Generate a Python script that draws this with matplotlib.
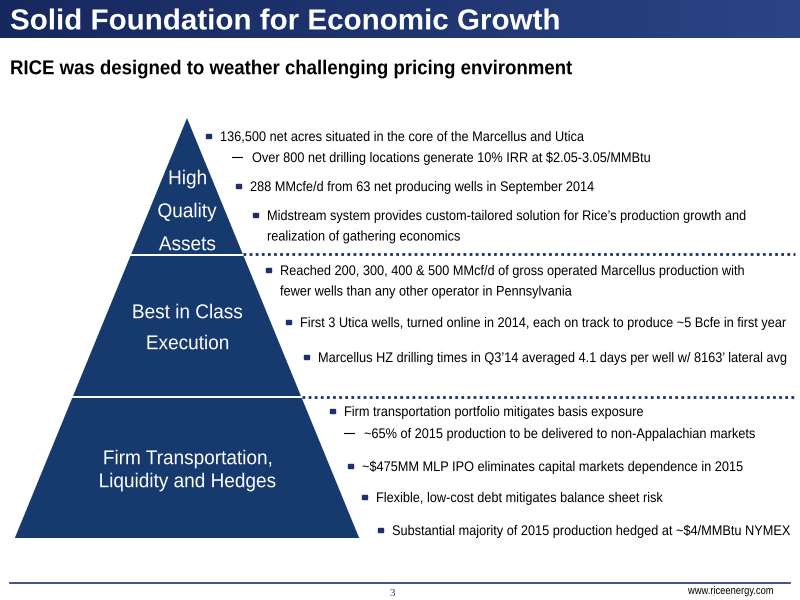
import numpy as np
import matplotlib.pyplot as plt
from matplotlib.patches import Polygon, PathPatch
from matplotlib.textpath import TextPath
from matplotlib.font_manager import FontProperties
from matplotlib.transforms import Affine2D
from matplotlib.colors import LinearSegmentedColormap

title = "Solid Foundation for Economic Growth"
subtitle = "RICE was designed to weather challenging pricing environment"
tier_labels = [["High", "Quality", "Assets"], ["Best in Class", "Execution"],
               ["Firm Transportation,", "Liquidity and Hedges"]]
tier_label_y = [[177, 210, 243], [311, 342], [457, 480]]
# (marker, marker x, y of each line, text lines)
bullets = [
    ("▪", 206, 136, ["136,500 net acres situated in the core of the Marcellus and Utica"]),
    ("–", 232, 157, ["Over 800 net drilling locations generate 10% IRR at $2.05-3.05/MMBtu"]),
    ("▪", 236, 186, ["288 MMcfe/d from 63 net producing wells in September 2014"]),
    ("▪", 253, 215, ["Midstream system provides custom-tailored solution for Rice’s production growth and",
                     "realization of gathering economics"]),
    ("▪", 266, 270, ["Reached 200, 300, 400 & 500 MMcf/d of gross operated Marcellus production with",
                     "fewer wells than any other operator in Pennsylvania"]),
    ("▪", 286, 322, ["First 3 Utica wells, turned online in 2014, each on track to produce ~5 Bcfe in first year"]),
    ("▪", 304, 357, ["Marcellus HZ drilling times in Q3’14 averaged 4.1 days per well w/ 8163’ lateral avg"]),
    ("▪", 330, 411, ["Firm transportation portfolio mitigates basis exposure"]),
    ("–", 344, 433, ["~65% of 2015 production to be delivered to non-Appalachian markets"]),
    ("▪", 348, 466, ["~$475MM MLP IPO eliminates capital markets dependence in 2015"]),
    ("▪", 362, 497, ["Flexible, low-cost debt mitigates balance sheet risk"]),
    ("▪", 378, 530, ["Substantial majority of 2015 production hedged at ~$4/MMBtu NYMEX"]),
]

navy = "#1f2f6b"
pyr_color = "#173a6e"
fig = plt.figure(figsize=(8, 6), dpi=100)
ax = fig.add_axes([0, 0, 1, 1])
ax.set_xlim(0, 800)
ax.set_ylim(600, 0)
ax.axis("off")


def ntext(x, y, s, px, color="black", ha="left", weight="normal", sx=0.82, zorder=4):
    """Draw horizontally condensed text (stand-in for Arial Narrow), y = vertical centre."""
    fp = FontProperties(family="Liberation Sans", weight=weight)
    path = TextPath((0, 0), s, size=px, prop=fp)
    w = path.get_extents().x1 * sx
    x0 = x - w / 2 if ha == "center" else x
    tr = Affine2D().scale(sx, -1).translate(x0, y + 0.36 * px)
    ax.add_patch(PathPatch(tr.transform_path(path), facecolor=color, edgecolor="none",
                           lw=0, zorder=zorder))


# title bar with gradient
grad = np.linspace(0, 1, 256).reshape(1, -1)
bar_cmap = LinearSegmentedColormap.from_list("bar", ["#17285e", "#1f3570", "#2b4585"])
ax.imshow(grad, extent=[0, 800, 38, 0], cmap=bar_cmap, aspect="auto", zorder=1)
ntext(10, 19, title, 29, color="white", weight="bold", sx=1.02)
ntext(10, 67, subtitle, 20, weight="bold", sx=0.93)

# pyramid
apex_x, apex_y, slope = 187, 118, 0.41
tiers = [(118, 254), (256, 396), (398, 538)]
for (y0, y1), lines, ys in zip(tiers, tier_labels, tier_label_y):
    hw0 = (y0 - apex_y) * slope
    hw1 = (y1 - apex_y) * slope
    ax.add_patch(Polygon([(apex_x - hw0, y0), (apex_x + hw0, y0), (apex_x + hw1, y1),
                          (apex_x - hw1, y1)], closed=True, facecolor=pyr_color,
                         edgecolor="none", zorder=2))
    for line, ly in zip(lines, ys):
        ntext(apex_x, ly, line, 20, color="white", ha="center", sx=0.95)

# dotted separators
ax.plot([243, 795], [254, 254], color=navy, lw=2, ls=(0, (1, 1.2)), zorder=2)
ax.plot([302, 795], [397, 397], color=navy, lw=2, ls=(0, (1, 1.2)), zorder=2)

for mark, mx, my, lines in bullets:
    if mark == "▪":
        ax.add_patch(plt.Rectangle((mx, my - 2.2), 4.5, 4.5, color=navy, zorder=4))
        tx = mx + 14
    else:
        ax.plot([mx, mx + 10], [my, my], color="black", lw=0.8)
        tx = mx + 20
    for i, line in enumerate(lines):
        ntext(tx, my + 20.5 * i, line, 14, sx=0.91)

# footer
ax.plot([10, 790], [583, 583], color="#1f3570", lw=1.2)
ax.text(392, 593, "3", fontsize=8, ha="center", va="center", color="#1f3570",
        family=["Liberation Serif", "DejaVu Serif"])
ntext(780 - 92, 590, "www.riceenergy.com", 11, sx=0.85)

fig.savefig("out.png", dpi=100)
